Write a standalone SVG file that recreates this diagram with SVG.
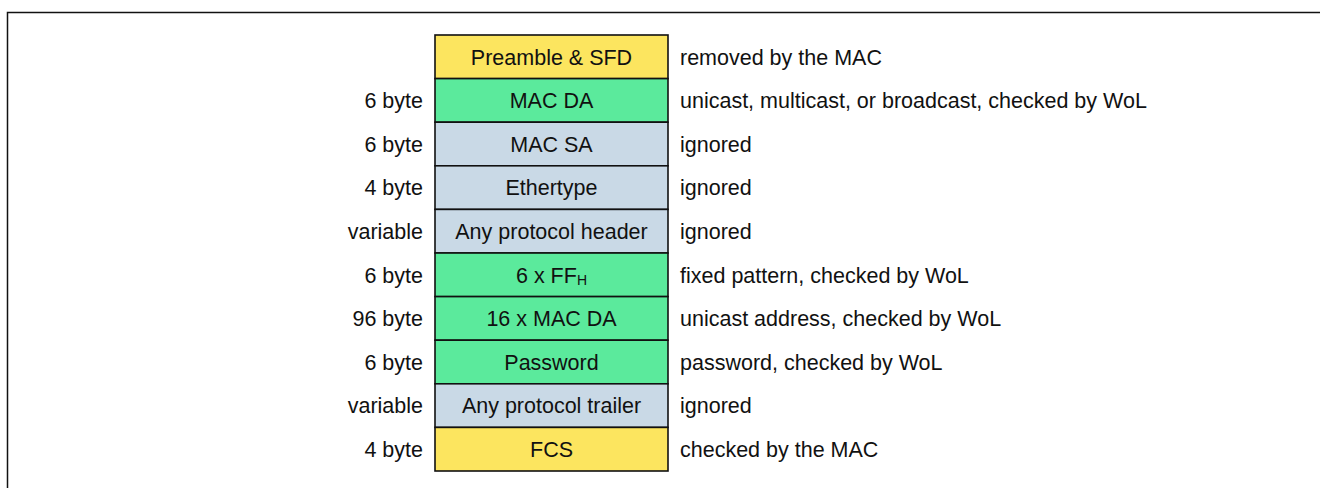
<svg xmlns="http://www.w3.org/2000/svg" width="1320" height="488" viewBox="0 0 1320 488">
<style>
text{font-family:"Liberation Sans",Arial,sans-serif;font-size:21.5px;fill:#111}
.c{text-anchor:middle}
.l{text-anchor:end}
.box{stroke:#111;stroke-width:1.6}
.y{fill:#FCE55F}
.g{fill:#5BEA9C}
.b{fill:#C9D9E6}
</style>
<rect width="1320" height="488" fill="#fff"/>
<path d="M7.5 488 V12.5 H1320" fill="none" stroke="#111" stroke-width="1.5"/>
<g id="row1"><rect class="box y" x="435" y="35" width="233" height="43.6"/><text class="c" x="551.5" y="64.5">Preamble &amp; SFD</text><text x="680" y="64.5">removed by the MAC</text></g>
<g id="row2"><rect class="box g" x="435" y="78.6" width="233" height="43.6"/><text class="c" x="551.5" y="108">MAC DA</text><text class="l" x="423" y="108">6 byte</text><text x="680" y="108">unicast, multicast, or broadcast, checked by WoL</text></g>
<g id="row3"><rect class="box b" x="435" y="122.2" width="233" height="43.6"/><text class="c" x="551.5" y="151.8">MAC SA</text><text class="l" x="423" y="151.8">6 byte</text><text x="680" y="151.8">ignored</text></g>
<g id="row4"><rect class="box b" x="435" y="165.8" width="233" height="43.6"/><text class="c" x="551.5" y="195.4">Ethertype</text><text class="l" x="423" y="195.4">4 byte</text><text x="680" y="195.4">ignored</text></g>
<g id="row5"><rect class="box b" x="435" y="209.4" width="233" height="43.6"/><text class="c" x="551.5" y="239">Any protocol header</text><text class="l" x="423" y="239">variable</text><text x="680" y="239">ignored</text></g>
<g id="row6"><rect class="box g" x="435" y="253" width="233" height="43.6"/><text class="c" x="551.5" y="282.6">6 x FF<tspan font-size="14" dy="2">H</tspan></text><text class="l" x="423" y="282.6">6 byte</text><text x="680" y="282.6">fixed pattern, checked by WoL</text></g>
<g id="row7"><rect class="box g" x="435" y="296.6" width="233" height="43.6"/><text class="c" x="551.5" y="326.2">16 x MAC DA</text><text class="l" x="423" y="326.2">96 byte</text><text x="680" y="326.2">unicast address, checked by WoL</text></g>
<g id="row8"><rect class="box g" x="435" y="340.2" width="233" height="43.6"/><text class="c" x="551.5" y="369.8">Password</text><text class="l" x="423" y="369.8">6 byte</text><text x="680" y="369.8">password, checked by WoL</text></g>
<g id="row9"><rect class="box b" x="435" y="383.8" width="233" height="43.6"/><text class="c" x="551.5" y="413.4">Any protocol trailer</text><text class="l" x="423" y="413.4">variable</text><text x="680" y="413.4">ignored</text></g>
<g id="row10"><rect class="box y" x="435" y="427.4" width="233" height="43.6"/><text class="c" x="551.5" y="457">FCS</text><text class="l" x="423" y="457">4 byte</text><text x="680" y="457">checked by the MAC</text></g>
<g id="connectors"></g>
</svg>
